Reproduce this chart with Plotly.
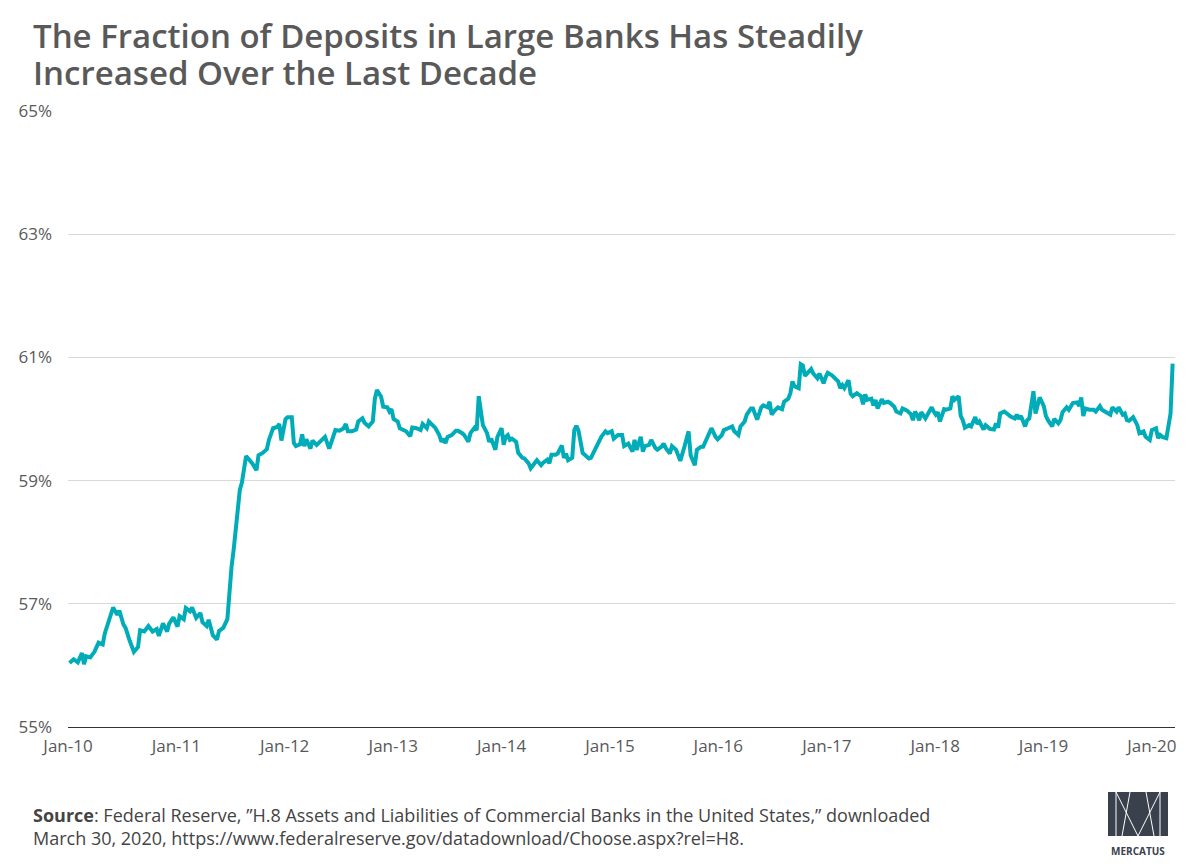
import pandas as pd
import plotly.graph_objects as go

# ---- data: weeks since first weekly observation (2010-01-06), share of deposits in large banks (%)
weeks_a = [0,2,4,6,7,8,10,12,14,16,17,19,21,23,24,26,27,29,30,31,33,34,36,38,40,42,43,45,47,48,
           50,52,53,55,56,58,59,61,63,64,66,67,69,71,72,74,76,77,78,79,80,82,83,85,86,88,90,91,93,95,
           96,98,100,101,102,104,105,107,108,109,111,112,113,114,116,117,119,121,123]
vals_a = [56.04,56.10,56.05,56.20,56.02,56.15,56.13,56.22,56.37,56.34,56.52,56.74,56.94,56.82,56.89,56.66,56.61,56.40,56.30,56.22,
          56.30,56.57,56.55,56.64,56.55,56.59,56.48,56.68,56.55,56.68,56.78,56.63,56.80,56.75,56.93,56.88,56.94,56.77,56.85,56.70,
          56.64,56.74,56.49,56.42,56.56,56.61,56.75,57.22,57.60,57.87,58.20,58.85,58.97,59.40,59.36,59.28,59.17,59.41,59.45,59.51,
          59.66,59.85,59.87,59.92,59.65,60.00,60.03,60.03,59.61,59.56,59.59,59.75,59.56,59.67,59.52,59.65,59.58,59.65,59.71]

weeks_b = [125,127,128,130,132,133,134,136,138,139,141,142,144,146,147,148,150,151,153,154,
           155,156,158,159,160,162,164,165,167,169,170,172,173,174,176,178,179,180,181,182,
           184,186,187,189,190,192,193,195,196,197,198,199,201,202,203,205,206,208,209,210,
           211,212,213,215,216,218,219,221,222,224,225,227,228,230,231,232,234,235,237,238,
           239,240,242,243,244,245,247,248,250,251,253,254,256,258,259,261,262,264]
vals_b = [59.52,59.74,59.82,59.81,59.85,59.92,59.80,59.80,59.83,59.96,60.01,59.94,59.88,59.96,60.33,60.47,60.36,60.20,60.19,60.12,
          60.16,60.00,59.96,59.85,59.83,59.80,59.72,59.86,59.85,59.82,59.92,59.85,59.96,59.93,59.86,59.74,59.63,59.68,59.61,59.71,
          59.74,59.81,59.81,59.77,59.74,59.63,59.77,59.86,59.82,60.37,60.09,59.90,59.77,59.63,59.68,59.50,59.71,59.85,59.58,59.71,
          59.74,59.66,59.68,59.63,59.45,59.37,59.36,59.28,59.20,59.28,59.33,59.25,59.29,59.34,59.28,59.42,59.42,59.44,59.57,59.37,
          59.44,59.33,59.37,59.82,59.89,59.81,59.45,59.42,59.36,59.37,59.50,59.55,59.71,59.80,59.77,59.80,59.68,59.74]

weeks_c = [266,267,269,271,272,273,275,276,277,279,280,282,283,285,286,287,289,290,292,293,
           294,296,298,299,301,302,304,305,307,308,309,311,312,314,315,317,319,320,322,323,
           325,326,328,329,331,333,334,336,337,338,339,341,343,344,346,347,348,349,351,352,
           353,354,355,357,358,360,361,363,364,365,367,368,370,371,372,373,375,376,377,379,
           381,382,383,384,386,387,388,389,391,392,394,395,397,398]
vals_c = [59.74,59.56,59.60,59.47,59.66,59.50,59.71,59.47,59.56,59.58,59.66,59.53,59.50,59.55,59.60,59.53,59.44,59.56,59.50,59.41,
          59.32,59.55,59.80,59.41,59.25,59.50,59.55,59.55,59.71,59.80,59.85,59.71,59.67,59.74,59.82,59.85,59.88,59.80,59.74,59.88,
          59.96,60.07,60.17,60.17,59.99,60.19,60.22,60.19,60.28,60.07,60.12,60.19,60.16,60.28,60.33,60.42,60.61,60.53,60.50,60.89,
          60.87,60.70,60.74,60.81,60.74,60.66,60.74,60.58,60.68,60.75,60.71,60.68,60.61,60.50,60.55,60.50,60.63,60.41,60.37,60.42,
          60.37,60.24,60.40,60.31,60.33,60.22,60.31,60.17,60.32,60.26,60.28,60.26,60.20,60.12]

weeks_d = [400,401,403,405,406,407,408,409,410,412,413,415,416,417,418,419,421,422,424,425,
           426,428,429,430,431,433,434,436,437,438,440,441,443,445,446,447,448,450,452,453,
           455,456,457,458,460,461,462,464,465,466,467,469,470,471,473,474,476,477,478,480,
           481,483,485,486,487,488,489,491,493,494,496,497,499,501,502,504,505,507,508,509,
           510,512,514,515,517,518,520,521,523,524,525,526,528,529,530,531]
vals_d = [60.09,60.17,60.14,60.08,59.98,60.12,60.07,59.98,60.11,60.01,60.07,60.19,60.12,60.07,60.11,59.96,60.16,60.15,60.17,60.37,
          60.31,60.37,60.05,59.98,59.86,59.90,59.88,60.03,59.92,59.96,59.83,59.90,59.84,59.83,59.93,59.86,60.09,60.12,60.07,60.04,
          60.01,60.07,60.00,60.05,59.88,59.98,60.01,60.45,60.09,60.21,60.35,60.21,60.05,59.98,59.88,60.00,59.93,59.98,60.11,60.19,
          60.15,60.26,60.27,60.21,60.35,60.05,60.17,60.15,60.15,60.12,60.21,60.15,60.11,60.07,60.19,60.12,60.19,60.07,60.09,59.98,
          59.97,60.03,59.90,59.77,59.80,59.71,59.66,59.82,59.85,59.69,59.74,59.71,59.69,59.93,60.09,60.90]

start_date = "2010-01-06"
y_ticks = [55, 57, 59, 61, 63, 65]

weeks = weeks_a + weeks_b + weeks_c + weeks_d
values = vals_a + vals_b + vals_c + vals_d
dates = pd.Timestamp(start_date) + pd.to_timedelta([w * 7 for w in weeks], unit="D")

# ---- layout geometry (pixels)
W, H = 1194, 866
L, R, T, B = 68, 19, 111, 139
PW, PH = W - L - R, H - T - B


def px(x):
    return (x - L) / PW


def py(y):
    return (H - B - y) / PH


GRAY = "#595959"
FONT = "Open Sans"

fig = go.Figure()
fig.add_trace(go.Scatter(
    x=dates, y=values, mode="lines",
    line=dict(color="#00ACB7", width=4),
    hoverinfo="skip", showlegend=False,
))

fig.update_layout(
    width=W, height=H,
    margin=dict(l=L, r=R, t=T, b=B),
    paper_bgcolor="white", plot_bgcolor="white",
    font=dict(family=FONT, color=GRAY, size=17),
    xaxis=dict(
        type="date",
        range=["2010-01-01", "2020-03-19"],
        tick0="2010-01-01", dtick="M12", tickformat="%b-%y",
        showgrid=False, zeroline=False,
        showline=True, linecolor="#333333", linewidth=1,
        ticks="", ticklabelstandoff=4,
        tickfont=dict(size=17, color=GRAY),
    ),
    yaxis=dict(
        range=[55, 65],
        tickvals=y_ticks,
        ticktext=[f"{v}%" for v in y_ticks],
        showgrid=True, gridcolor="#d9d9d9", gridwidth=1,
        zeroline=False, showline=False, ticks="",
        ticklabelstandoff=15,
        tickfont=dict(size=17, color=GRAY),
    ),
)

# Title (two lines)
for txt, yc in [("The Fraction of Deposits in Large Banks Has Steadily", 35),
                ("Increased Over the Last Decade", 72)]:
    fig.add_annotation(
        xref="paper", yref="paper", x=px(31), y=py(yc), xanchor="left", yanchor="middle",
        showarrow=False, text=txt,
        font=dict(family=FONT, size=33, color=GRAY, weight=600),
    )

# Source note
for txt, yc in [("<b>Source</b>: Federal Reserve, \u201dH.8 Assets and Liabilities of Commercial Banks in the United States,\u201d downloaded", 815),
                ("March 30, 2020, https://www.federalreserve.gov/datadownload/Choose.aspx?rel=H8.", 838)]:
    fig.add_annotation(
        xref="paper", yref="paper", x=px(31), y=py(yc), xanchor="left", yanchor="middle",
        align="left", showarrow=False, text=txt,
        font=dict(family=FONT, size=18, color="#444444"),
    )

# Mercatus logo (decorative)
LOGO = "#3b414c"
x0, x1, y0, y1 = 1108, 1168, 792, 836
fig.add_shape(type="rect", xref="paper", yref="paper",
              x0=px(x0), x1=px(x1), y0=py(y1), y1=py(y0),
              fillcolor=LOGO, line=dict(width=0), layer="above")
wline = dict(color="white", width=1)
xm = (x0 + x1) / 2
for (ax, ay, bx, by) in [
    (x0 + 8, y0, x0 + 8, y1),
    (x1 - 8, y0, x1 - 8, y1),
    (x0 + 8, y0, xm, y1),
    (x1 - 8, y0, xm, y1),
    (xm - 8, y0, x0 + 14, y1),
    (xm + 8, y0, x1 - 14, y1),
]:
    fig.add_shape(type="line", xref="paper", yref="paper",
                  x0=px(ax), y0=py(ay), x1=px(bx), y1=py(by),
                  line=wline, layer="above")
fig.add_annotation(
    xref="paper", yref="paper", x=px(xm), y=py(851), xanchor="center", yanchor="middle",
    showarrow=False, text="<b>MERCATUS</b>",
    font=dict(family=FONT, size=10, color=LOGO),
)

fig.write_html("out.html", config={"displayModeBar": False},
               post_script="document.body.style.margin='0';")
